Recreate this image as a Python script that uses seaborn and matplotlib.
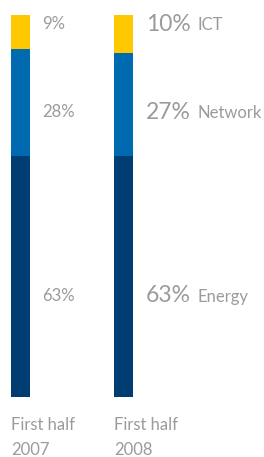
import numpy as np
import pandas as pd
import matplotlib
matplotlib.use("Agg")
import matplotlib.pyplot as plt
import seaborn as sns

# data
periods = ["First half\n2007", "First half\n2008"]
segments = ["Energy", "Network", "ICT"]
share_2007 = [63, 28, 9]
share_2008 = [63, 27, 10]
seg_colors = ["#003d72", "#006ab0", "#ffc800"]
label_pos = [26.5, 74.5, 97.6]   # where the percent labels sit (in % units)

sns.set_theme(style="white")
plt.rcParams["font.family"] = ["Lato", "DejaVu Sans"]
grey = "#9b9b9b"

df = pd.DataFrame({"period": np.repeat(periods, 3),
                   "segment": segments * 2,
                   "share": share_2007 + share_2008})
df["top"] = df.groupby("period")["share"].cumsum()

fig = plt.figure(figsize=(2.64, 4.57), dpi=100)
ax = fig.add_axes([0, 60 / 457, 1, 382 / 457])

# draw stacked bars from the top down so lower segments cover upper ones
for seg, col in reversed(list(zip(segments, seg_colors))):
    sub = df[df["segment"] == seg]
    sns.barplot(x="period", y="top", data=sub, color=col, width=0.184,
                saturation=1, linewidth=0, ax=ax, order=periods)

ax.set_xlim(-20.5 / 103, (264 - 20.5) / 103)
ax.set_ylim(0, 100)
ax.axis("off")

# labels for first half 2007
for v, y in zip(share_2007, label_pos):
    ax.text(0.21, y, f"{v}%", color=grey, fontsize=12, va="center", ha="left")

# labels for first half 2008, with segment names
for v, y, seg in zip(share_2008, label_pos, segments):
    ax.text(1.22, y, f"{v}%", color=grey, fontsize=16.5, va="center", ha="left")
    ax.text(1.715, y - 0.2, seg, color=grey, fontsize=12, va="center", ha="left")

# category labels below the bars
for i, p in enumerate(periods):
    for j, line in enumerate(p.split("\n")):
        ax.text(i - 0.09, -7.4 - 6.5 * j, line, color=grey, fontsize=12,
                va="center", ha="left")

fig.savefig("out.png", dpi=100)
